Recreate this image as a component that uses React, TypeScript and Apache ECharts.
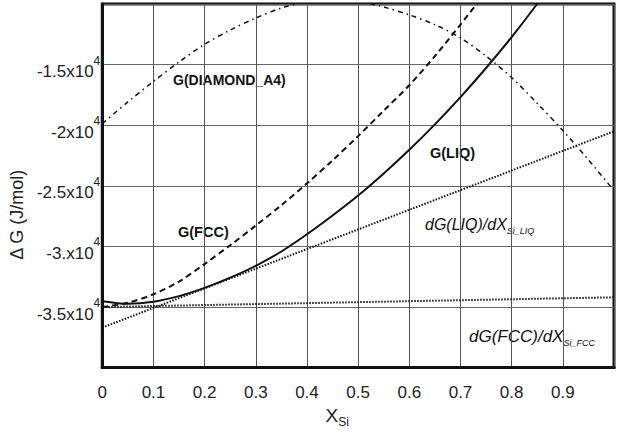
import React, { useEffect, useRef } from "react";
import * as echarts from "echarts";

// ---- data ----
const xDiamond = [0, 0.05, 0.1, 0.15, 0.2, 0.25, 0.3, 0.35, 0.4, 0.45, 0.5, 0.55, 0.6, 0.65, 0.7, 0.75, 0.8, 0.85, 0.9, 0.95, 1.0];
const yDiamond = [-19870, -18080, -16390, -14780, -13320, -12150, -11160, -10320, -9800, -9600, -9750, -10250, -10900, -11700, -12800, -14300, -16070, -18200, -20440, -22860, -25400];

const xFcc = [0, 0.05, 0.1, 0.15, 0.2, 0.25, 0.3, 0.35, 0.4, 0.45, 0.5, 0.55, 0.6, 0.65, 0.7, 0.75];
const yFcc = [-35000, -34650, -33950, -32900, -31450, -29900, -28280, -26600, -24800, -22900, -20900, -18800, -16700, -14300, -11700, -9000];

const xLiq = [0, 0.05, 0.1, 0.15, 0.2, 0.25, 0.3, 0.35, 0.4, 0.45, 0.5, 0.55, 0.6, 0.65, 0.7, 0.75, 0.8, 0.85, 0.9];
const yLiq = [-34520, -34730, -34560, -34100, -33420, -32580, -31600, -30420, -29000, -27450, -25800, -23980, -22030, -19930, -17680, -15280, -12730, -9980, -7030];

const xTanLiq = [0, 1];
const yTanLiq = [-36700, -20500];

const xTanFcc = [0, 1];
const yTanFcc = [-35000, -34200];

const xTickLabels = ["0", "0.1", "0.2", "0.3", "0.4", "0.5", "0.6", "0.7", "0.8", "0.9"];
const yTickValues = [-15000, -20000, -25000, -30000, -35000];
const yTickLabels = ["-1.5x10", "-2x10", "-2.5x10", "-3.x10", "-3.5x10"];

const FONT = "'Liberation Sans', Arial, Helvetica, sans-serif";
const INK = "#111";

function pairs(xs: number[], ys: number[]) {
  return xs.map((x, i) => [x, ys[i]]);
}

export default function App() {
  const ref = useRef<HTMLDivElement>(null);

  useEffect(() => {
    if (!ref.current) return;
    const chart = echarts.init(ref.current, null, { renderer: "svg" });
    const option: any = {
      animation: false,
      backgroundColor: "#fff",
      grid: {
        left: 101,
        top: 4,
        width: 519,
        height: 371,
        show: true,
        borderColor: INK,
        borderWidth: 3,
        containLabel: false,
      },
      xAxis: {
        type: "value",
        min: 0,
        max: 1,
        interval: 0.1,
        axisLine: { show: true, onZero: false, lineStyle: { color: INK, width: 3 } },
        axisTick: { show: false },
        splitLine: { show: true, lineStyle: { color: "#555", width: 1 } },
        axisLabel: {
          margin: 16,
          color: "#222",
          fontFamily: FONT,
          fontSize: 17,
          formatter: (v: number) => {
            const i = Math.round(v * 10);
            return i < xTickLabels.length ? xTickLabels[i] : "";
          },
        },
        name: "{m|X}{s|Si}",
        nameLocation: "middle",
        nameGap: 32,
        nameTextStyle: {
          padding: [0, 42, 0, 0],
          rich: {
            m: { fontSize: 19, fontFamily: FONT, color: "#222", lineHeight: 26 },
            s: { fontSize: 12, fontFamily: FONT, color: "#222", lineHeight: 12, verticalAlign: "bottom" },
          },
        },
      },
      yAxis: {
        type: "value",
        min: -40000,
        max: -10000,
        interval: 5000,
        axisLine: { show: true, onZero: false, lineStyle: { color: INK, width: 3 } },
        axisTick: { show: false },
        splitLine: { show: true, lineStyle: { color: "#666", width: 1.2 } },
        axisLabel: {
          margin: 2,
          padding: [14, 0, 0, 0],
          formatter: (v: number) => {
            const i = yTickValues.indexOf(Math.round(v));
            return i >= 0 ? `{b|${yTickLabels[i]}}{s|4}` : "";
          },
          rich: {
            b: { fontSize: 17, fontFamily: FONT, color: "#222", lineHeight: 34 },
            s: { fontSize: 12, fontFamily: FONT, color: "#222", lineHeight: 12, verticalAlign: "top" },
          },
        },
        name: "\u0394 G (J/mol)",
        nameLocation: "middle",
        nameGap: 74,
        nameTextStyle: {
          fontSize: 18,
          fontFamily: FONT,
          color: "#222",
          padding: [0, 58, 0, 0],
        },
      },
      series: [
        {
          name: "G(DIAMOND_A4)",
          type: "line",
          data: pairs(xDiamond, yDiamond),
          smooth: 0.3,
          symbol: "none",
          clip: true,
          lineStyle: { color: INK, width: 1.5, type: [5, 4, 1.5, 4] },
        },
        {
          name: "G(FCC)",
          type: "line",
          data: pairs(xFcc, yFcc),
          smooth: 0.3,
          symbol: "none",
          clip: true,
          lineStyle: { color: INK, width: 2, type: [6, 4] },
        },
        {
          name: "G(LIQ)",
          type: "line",
          data: pairs(xLiq, yLiq),
          smooth: 0.3,
          symbol: "none",
          clip: true,
          lineStyle: { color: INK, width: 2, type: "solid" },
        },
        {
          name: "dG(LIQ)/dX",
          type: "line",
          data: pairs(xTanLiq, yTanLiq),
          symbol: "none",
          clip: true,
          lineStyle: { color: INK, width: 2, type: [1.5, 1.5] },
        },
        {
          name: "dG(FCC)/dX",
          type: "line",
          data: pairs(xTanFcc, yTanFcc),
          symbol: "none",
          clip: true,
          lineStyle: { color: INK, width: 2, type: [1.5, 1.5] },
        },
      ],
      graphic: [
        {
          type: "text",
          x: 173,
          y: 80,
          style: {
            text: "G(DIAMOND_A4)",
            fontSize: 14,
            fontWeight: "bold",
            fontFamily: FONT,
            fill: INK,
            textAlign: "left",
            textVerticalAlign: "middle",
            align: "left",
            verticalAlign: "middle",
          },
        },
        {
          type: "text",
          x: 178,
          y: 232,
          style: {
            text: "G(FCC)",
            fontSize: 14.5,
            fontWeight: "bold",
            fontFamily: FONT,
            fill: INK,
            textAlign: "left",
            textVerticalAlign: "middle",
            align: "left",
            verticalAlign: "middle",
          },
        },
        {
          type: "text",
          x: 430,
          y: 153,
          style: {
            text: "G(LIQ)",
            fontSize: 14.5,
            fontWeight: "bold",
            fontFamily: FONT,
            fill: INK,
            textAlign: "left",
            textVerticalAlign: "middle",
            align: "left",
            verticalAlign: "middle",
          },
        },
        {
          type: "text",
          x: 425,
          y: 224,
          style: {
            text: "{m|dG(LIQ)/dX}{s|Si_LIQ}",
            fill: INK,
            textAlign: "left",
            textVerticalAlign: "middle",
            align: "left",
            verticalAlign: "middle",
            rich: {
              m: { fontSize: 16, fontStyle: "italic", fontFamily: FONT, fill: INK, lineHeight: 22 },
              s: { fontSize: 9, fontStyle: "italic", fontFamily: FONT, fill: INK, lineHeight: 10, verticalAlign: "bottom" },
            },
          },
        },
        {
          type: "text",
          x: 469,
          y: 336,
          style: {
            text: "{m|dG(FCC)/dX}{s|Si_FCC}",
            fill: INK,
            textAlign: "left",
            textVerticalAlign: "middle",
            align: "left",
            verticalAlign: "middle",
            rich: {
              m: { fontSize: 17, fontStyle: "italic", fontFamily: FONT, fill: INK, lineHeight: 22 },
              s: { fontSize: 9, fontStyle: "italic", fontFamily: FONT, fill: INK, lineHeight: 10, verticalAlign: "bottom" },
            },
          },
        },
      ],
    };
    chart.setOption(option);
    return () => chart.dispose();
  }, []);

  return (
    <div
      ref={ref}
      style={{ position: "fixed", left: 0, top: 0, width: 617, height: 433, background: "#fff" }}
    />
  );
}
